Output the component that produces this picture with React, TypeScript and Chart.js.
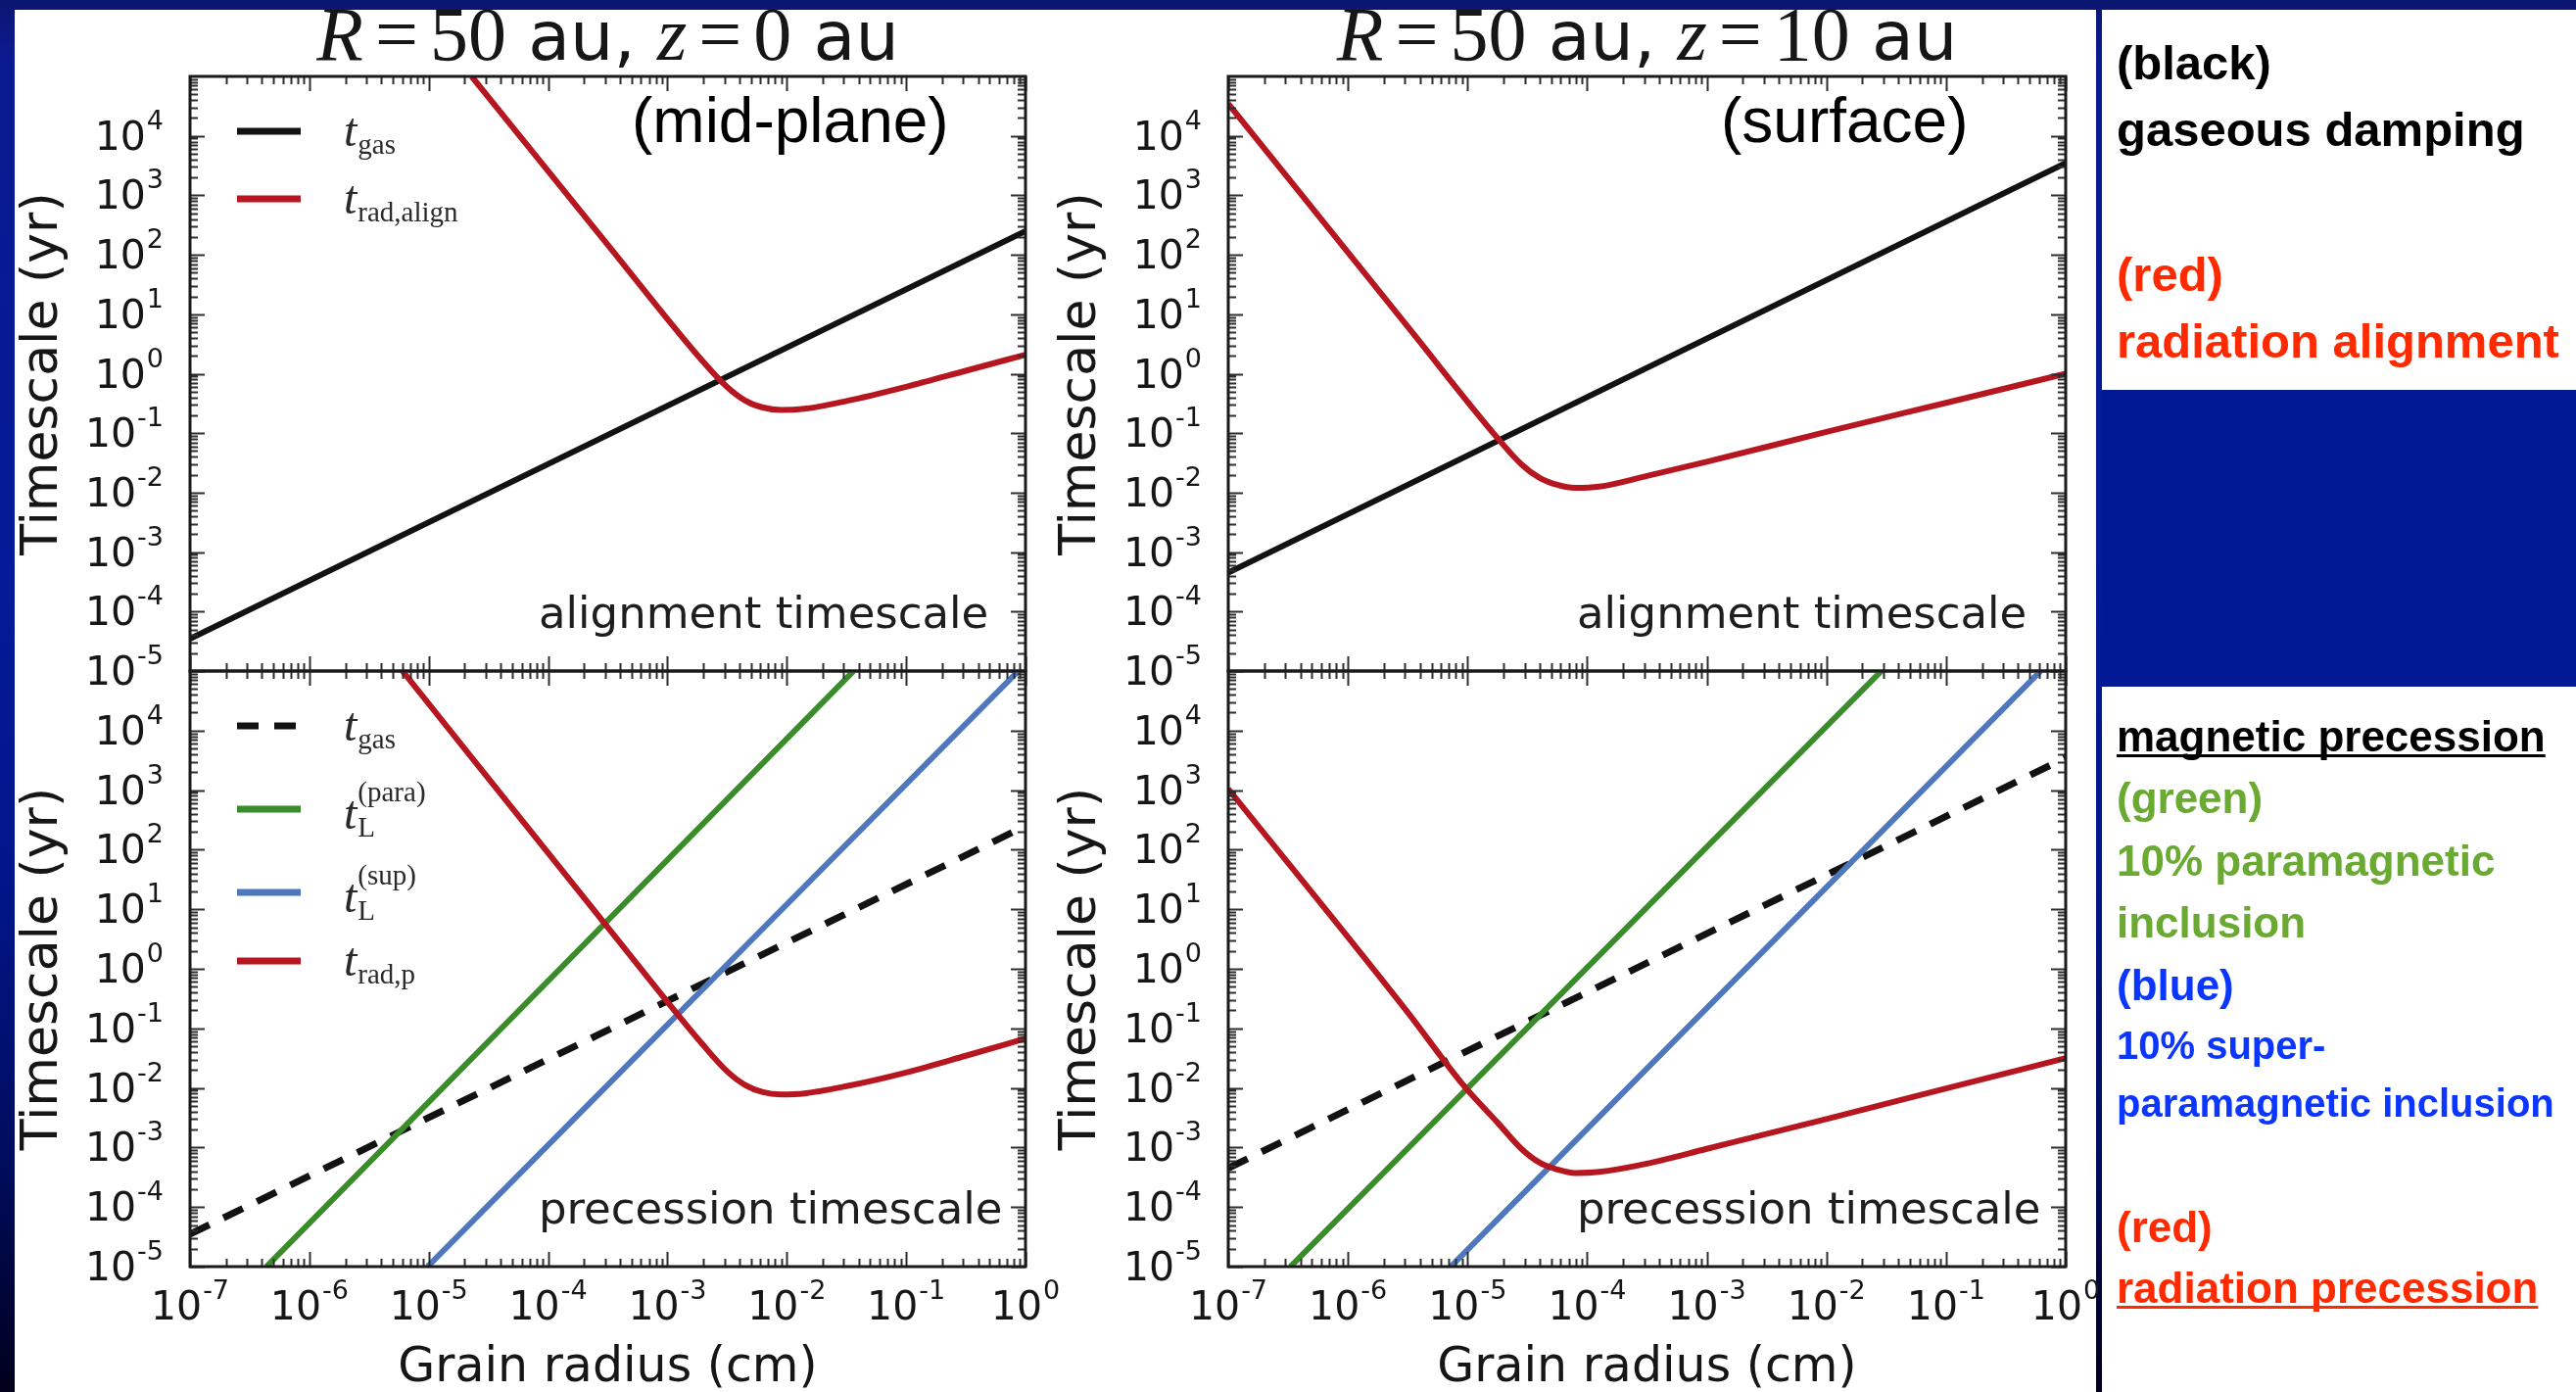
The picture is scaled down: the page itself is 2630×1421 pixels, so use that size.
import { useEffect, useRef } from 'react';
import { Chart, registerables } from 'chart.js';

Chart.register(...registerables);

const PAGE_W = 2630;
const PAGE_H = 1421;

// Decade exponents labelled on the axes
const radiusTickExponents = [-7, -6, -5, -4, -3, -2, -1, 0];
const timeTickExponents = [-5, -4, -3, -2, -1, 0, 1, 2, 3, 4];

// Gaseous damping timescale (yr) against grain radius (cm)
const gasRadius = [1e-7, 1];
const gasTimeMidplane = [3.5e-5, 250];
const gasTimeSurface = [4.5e-4, 3.5e3];

// Radiative alignment timescale, mid-plane (z = 0 au)
const radAlignMidRadius = [2.29e-5, 3.16e-4, 2.0e-3, 3.16e-3, 4.47e-3, 6.31e-3, 8.91e-3, 1.41e-2, 3.16e-2, 0.1, 0.316, 1];
const radAlignMidTime = [1e5, 148, 1.58, 0.6, 0.355, 0.27, 0.245, 0.257, 0.347, 0.603, 1.12, 2.09];

// Radiative alignment timescale, surface (z = 10 au)
const radAlignSurfRadius = [1e-7, 3.16e-6, 1.78e-5, 2.82e-5, 3.98e-5, 5.62e-5, 7.94e-5, 1.26e-4, 3.16e-4, 1e-3, 1e-2, 0.1, 1];
const radAlignSurfTime = [3.47e4, 6.2, 0.083, 0.03, 0.0178, 0.0135, 0.012, 0.0126, 0.0191, 0.0331, 0.105, 0.324, 1.0];

// Radiative precession timescale, mid-plane
const radPrecMidRadius = [6.03e-6, 3.16e-4, 2.0e-3, 3.16e-3, 4.47e-3, 6.31e-3, 8.91e-3, 1.41e-2, 3.16e-2, 0.1, 0.316, 1];
const radPrecMidTime = [1e5, 5.0, 0.052, 0.019, 0.0112, 0.0085, 0.0078, 0.0081, 0.0107, 0.0182, 0.0347, 0.0676];

// Radiative precession timescale, surface
const radPrecSurfRadius = [1e-7, 3.16e-6, 9.1e-6, 1.78e-5, 2.82e-5, 3.98e-5, 5.62e-5, 7.94e-5, 1.26e-4, 3.16e-4, 1e-3, 1e-2, 0.1, 1];
const radPrecSurfTime = [1.05e3, 0.186, 0.0115, 2.63e-3, 9.5e-4, 5.6e-4, 4.27e-4, 3.72e-4, 3.89e-4, 5.37e-4, 9.5e-4, 3.0e-3, 9.8e-3, 3.16e-2];

// Larmor precession: paramagnetic (para) and superparamagnetic (sup) inclusions
const paraMidRadius = [4.37e-7, 3.63e-2];
const supMidRadius = [9.77e-6, 0.871];
const paraSurfRadius = [3.31e-7, 2.88e-2];
const supSurfRadius = [7.24e-6, 0.617];
const larmorTime = [1e-5, 1e5];

const COLOR = {
  gas: '#121212',
  rad: '#b5161f',
  para: '#3a8b2a',
  sup: '#4f77bb',
};
const GAS_DASH = [22, 16];
const LINE_W = 6;
const DASH_W = 7;

type Curve = { radius: number[]; time: number[]; color: string; dash?: number[] };
type Key = { color: string; dash?: number[]; sub: string; sup?: string; y: number };
type Panel = {
  area: [number, number, number, number];
  curves: Curve[];
  keys: Key[];
  note: string;
  place?: string;
  placeX?: number;
  zValue?: string;
  xLabels: boolean;
};

const LEFT_COL: [number, number] = [194, 1047];
const RIGHT_COL: [number, number] = [1254, 2109];
const TOP_ROW: [number, number] = [78, 685];
const BOTTOM_ROW: [number, number] = [685, 1293];

const panels: Panel[] = [
  {
    area: [LEFT_COL[0], TOP_ROW[0], LEFT_COL[1], TOP_ROW[1]],
    curves: [
      { radius: radAlignMidRadius, time: radAlignMidTime, color: COLOR.rad },
      { radius: gasRadius, time: gasTimeMidplane, color: COLOR.gas },
    ],
    keys: [
      { color: COLOR.gas, sub: 'gas', y: 134 },
      { color: COLOR.rad, sub: 'rad,align', y: 203 },
    ],
    note: 'alignment timescale',
    place: '(mid-plane)',
    placeX: 645,
    zValue: '0',
    xLabels: false,
  },
  {
    area: [RIGHT_COL[0], TOP_ROW[0], RIGHT_COL[1], TOP_ROW[1]],
    curves: [
      { radius: radAlignSurfRadius, time: radAlignSurfTime, color: COLOR.rad },
      { radius: gasRadius, time: gasTimeSurface, color: COLOR.gas },
    ],
    keys: [],
    note: 'alignment timescale',
    place: '(surface)',
    placeX: 1757,
    zValue: '10',
    xLabels: false,
  },
  {
    area: [LEFT_COL[0], BOTTOM_ROW[0], LEFT_COL[1], BOTTOM_ROW[1]],
    curves: [
      { radius: radPrecMidRadius, time: radPrecMidTime, color: COLOR.rad },
      { radius: supMidRadius, time: larmorTime, color: COLOR.sup },
      { radius: paraMidRadius, time: larmorTime, color: COLOR.para },
      { radius: gasRadius, time: gasTimeMidplane, color: COLOR.gas, dash: GAS_DASH },
    ],
    keys: [
      { color: COLOR.gas, dash: GAS_DASH, sub: 'gas', y: 741 },
      { color: COLOR.para, sub: 'L', sup: '(para)', y: 826 },
      { color: COLOR.sup, sub: 'L', sup: '(sup)', y: 911 },
      { color: COLOR.rad, sub: 'rad,p', y: 981 },
    ],
    note: 'precession timescale',
    xLabels: true,
  },
  {
    area: [RIGHT_COL[0], BOTTOM_ROW[0], RIGHT_COL[1], BOTTOM_ROW[1]],
    curves: [
      { radius: radPrecSurfRadius, time: radPrecSurfTime, color: COLOR.rad },
      { radius: supSurfRadius, time: larmorTime, color: COLOR.sup },
      { radius: paraSurfRadius, time: larmorTime, color: COLOR.para },
      { radius: gasRadius, time: gasTimeSurface, color: COLOR.gas, dash: GAS_DASH },
    ],
    keys: [],
    note: 'precession timescale',
    xLabels: true,
  },
];

const SANS = '"DejaVu Sans", "Bitstream Vera Sans", sans-serif';
const SERIF = '"Liberation Serif", "Times New Roman", serif';
const TEXT = '#161616';

function drawPower(ctx: CanvasRenderingContext2D, exp: number, x: number, baseY: number, align: 'right' | 'center') {
  const base = '10';
  const sup = String(exp);
  ctx.font = `41px ${SANS}`;
  const wb = ctx.measureText(base).width;
  ctx.font = `27px ${SANS}`;
  const ws = ctx.measureText(sup).width;
  const total = wb + ws + 1;
  const x0 = align === 'right' ? x - total : x - total / 2;
  ctx.textAlign = 'left';
  ctx.textBaseline = 'alphabetic';
  ctx.font = `41px ${SANS}`;
  ctx.fillText(base, x0, baseY);
  ctx.font = `27px ${SANS}`;
  ctx.fillText(sup, x0 + wb + 1, baseY - 21);
}

function drawTitle(ctx: CanvasRenderingContext2D, cx: number, baseline: number, z: string) {
  const serifPx = 78;
  const sansPx = 70;
  const gap = 12;
  const parts: [string, string, number][] = [
    ['R', `italic ${serifPx}px ${SERIF}`, gap],
    ['=', `${serifPx}px ${SERIF}`, gap],
    ['50', `${serifPx}px ${SERIF}`, 0],
    [' au, ', `${sansPx}px ${SANS}`, 0],
    ['z', `italic ${serifPx}px ${SERIF}`, gap],
    ['=', `${serifPx}px ${SERIF}`, gap],
    [z, `${serifPx}px ${SERIF}`, 0],
    [' au', `${sansPx}px ${SANS}`, 0],
  ];
  let total = 0;
  const widths = parts.map(([t, f, g]) => {
    ctx.font = f;
    const w = ctx.measureText(t).width;
    total += w + g;
    return w;
  });
  let x = cx - total / 2;
  ctx.textAlign = 'left';
  ctx.textBaseline = 'alphabetic';
  ctx.fillStyle = TEXT;
  parts.forEach(([t, f, g], i) => {
    ctx.font = f;
    ctx.fillText(t, x, baseline);
    x += widths[i] + g;
  });
}

function drawKey(ctx: CanvasRenderingContext2D, left: number, key: Key) {
  ctx.save();
  ctx.strokeStyle = key.color;
  ctx.lineWidth = key.dash ? 7 : 7;
  ctx.lineCap = 'butt';
  ctx.setLineDash(key.dash ?? []);
  ctx.beginPath();
  ctx.moveTo(left + 48, key.y);
  ctx.lineTo(left + 113, key.y);
  ctx.stroke();
  ctx.restore();

  const x = left + 157;
  const baseY = key.y + (key.sup ? 20 : 15);
  ctx.fillStyle = '#2a2a2a';
  ctx.textAlign = 'left';
  ctx.textBaseline = 'alphabetic';
  ctx.font = `italic 48px ${SERIF}`;
  ctx.fillText('t', x, baseY);
  const tw = ctx.measureText('t').width;
  ctx.font = `29px ${SERIF}`;
  ctx.fillText(key.sub, x + tw + 1, baseY + 8);
  if (key.sup) ctx.fillText(key.sup, x + tw + 1, key.y - 8);
}

function drawPanel(chart: Chart, p: Panel) {
  const ctx = chart.ctx;
  const { left, right, top, bottom } = chart.chartArea;
  const xs = chart.scales.x;
  const ys = chart.scales.y;
  ctx.save();

  // inward ticks on all four sides
  ctx.strokeStyle = '#2e2e2e';
  ctx.lineWidth = 2;
  ctx.beginPath();
  for (const e of radiusTickExponents) {
    for (let m = 1; m <= 9; m++) {
      const v = m * Math.pow(10, e);
      if (v > 1.0000001) break;
      const px = Math.round(xs.getPixelForValue(v)) + 0.5;
      const len = m === 1 ? 15 : 8;
      ctx.moveTo(px, bottom);
      ctx.lineTo(px, bottom - len);
      ctx.moveTo(px, top);
      ctx.lineTo(px, top + len);
    }
  }
  for (const e of timeTickExponents) {
    for (let m = 1; m <= 9; m++) {
      const v = m * Math.pow(10, e);
      const py = Math.round(ys.getPixelForValue(v)) + 0.5;
      const len = m === 1 ? 15 : 8;
      ctx.moveTo(left, py);
      ctx.lineTo(left + len, py);
      ctx.moveTo(right, py);
      ctx.lineTo(right - len, py);
    }
  }
  ctx.stroke();

  // frame
  ctx.strokeStyle = '#1a1a1a';
  ctx.lineWidth = 3;
  ctx.strokeRect(left, top, right - left, bottom - top);

  // tick labels
  ctx.fillStyle = TEXT;
  for (const e of timeTickExponents) {
    const py = ys.getPixelForValue(Math.pow(10, e));
    drawPower(ctx, e, left - 27, py + 14, 'right');
  }
  if (p.xLabels) {
    for (const e of radiusTickExponents) {
      const px = xs.getPixelForValue(Math.pow(10, e));
      drawPower(ctx, e, px, bottom + 54, 'center');
    }
    ctx.font = `49px ${SANS}`;
    ctx.textAlign = 'center';
    ctx.fillText('Grain radius (cm)', (left + right) / 2, 1410);
  }

  // y axis title
  ctx.save();
  ctx.translate(left - 136, (top + bottom) / 2);
  ctx.rotate(-Math.PI / 2);
  ctx.font = `52px ${SANS}`;
  ctx.textAlign = 'center';
  ctx.textBaseline = 'alphabetic';
  ctx.fillText('Timescale (yr)', 0, 0);
  ctx.restore();

  // in-panel annotations
  ctx.textAlign = 'left';
  ctx.textBaseline = 'alphabetic';
  ctx.fillStyle = '#1e1e1e';
  ctx.font = `45px ${SANS}`;
  ctx.fillText(p.note, left + 356, bottom - 44);
  if (p.place && p.placeX !== undefined) {
    ctx.fillStyle = '#000';
    ctx.font = `64px "Liberation Sans", Arial, sans-serif`;
    ctx.fillText(p.place, p.placeX, top + 67);
  }

  // legend
  p.keys.forEach((k) => drawKey(ctx, left, k));

  // title
  if (p.zValue) drawTitle(ctx, (left + right) / 2, 61, p.zValue);

  ctx.restore();
}

function PanelChart({ panel }: { panel: Panel }) {
  const ref = useRef<HTMLCanvasElement>(null);
  useEffect(() => {
    const canvas = ref.current;
    if (!canvas) return;
    const [l, t, r, b] = panel.area;
    const chart = new Chart(canvas, {
      type: 'line',
      data: {
        datasets: panel.curves.map((c) => ({
          data: c.radius.map((x, i) => ({ x, y: c.time[i] })),
          borderColor: c.color,
          backgroundColor: c.color,
          borderWidth: c.dash ? DASH_W : LINE_W,
          borderDash: c.dash ?? [],
          borderCapStyle: 'butt' as const,
          pointRadius: 0,
          fill: false,
          tension: 0,
          cubicInterpolationMode: (c.radius.length > 2 ? 'monotone' : 'default') as 'monotone' | 'default',
          clip: 0,
        })),
      },
      options: {
        responsive: false,
        animation: false,
        devicePixelRatio: 1,
        events: [],
        layout: { padding: { left: l, top: t, right: PAGE_W - r, bottom: PAGE_H - b } },
        plugins: { legend: { display: false }, tooltip: { enabled: false }, title: { display: false } },
        scales: {
          x: { type: 'logarithmic', min: 1e-7, max: 1, display: false },
          y: { type: 'logarithmic', min: 1e-5, max: 1e5, display: false },
        },
      },
      plugins: [{ id: 'panelDecor', afterDatasetsDraw: (ch: Chart) => drawPanel(ch, panel) }],
    });
    return () => chart.destroy();
  }, [panel]);
  return (
    <canvas
      ref={ref}
      width={PAGE_W}
      height={PAGE_H}
      style={{ position: 'absolute', left: 0, top: 0, width: PAGE_W, height: PAGE_H }}
    />
  );
}

type SideLine = { text: string; color: string; size: number; baseline: number; underline?: boolean };

const SIDE_RED = '#ff2a00';
const SIDE_GREEN = '#6aaa32';
const SIDE_BLUE = '#0a36ff';

const sideLines: SideLine[] = [
  { text: '(black)', color: '#000', size: 49, baseline: 81 },
  { text: 'gaseous damping', color: '#000', size: 49, baseline: 149 },
  { text: '(red)', color: SIDE_RED, size: 49, baseline: 297 },
  { text: 'radiation alignment', color: SIDE_RED, size: 49, baseline: 365 },
  { text: 'magnetic precession', color: '#000', size: 44, baseline: 767, underline: true },
  { text: '(green)', color: SIDE_GREEN, size: 44, baseline: 830 },
  { text: '10% paramagnetic', color: SIDE_GREEN, size: 44, baseline: 894 },
  { text: 'inclusion', color: SIDE_GREEN, size: 44, baseline: 957 },
  { text: '(blue)', color: SIDE_BLUE, size: 44, baseline: 1021 },
  { text: '10% super-', color: SIDE_BLUE, size: 40, baseline: 1081 },
  { text: 'paramagnetic inclusion', color: SIDE_BLUE, size: 40, baseline: 1140 },
  { text: '(red)', color: SIDE_RED, size: 44, baseline: 1268 },
  { text: 'radiation precession', color: SIDE_RED, size: 44, baseline: 1330, underline: true },
];

export default function App() {
  useEffect(() => {
    document.body.style.margin = '0';
    document.body.style.overflow = 'hidden';
  }, []);

  return (
    <div
      style={{
        position: 'absolute',
        left: 0,
        top: 0,
        width: PAGE_W,
        height: PAGE_H,
        overflow: 'hidden',
        background:
          'linear-gradient(180deg, #0b1670 0%, #0b1a90 4%, #041a98 40%, #02168c 62%, #000c5c 84%, #00001c 100%)',
      }}
    >
      <div style={{ position: 'absolute', left: 15, top: 10, width: 2125, height: PAGE_H - 10, background: '#fff' }} />
      <div style={{ position: 'absolute', left: 2146, top: 10, width: PAGE_W - 2146, height: 388, background: '#fff' }} />
      <div style={{ position: 'absolute', left: 2146, top: 398, width: PAGE_W - 2146, height: 303, background: '#021996' }} />
      <div style={{ position: 'absolute', left: 2146, top: 701, width: PAGE_W - 2146, height: PAGE_H - 701, background: '#fff' }} />

      {panels.map((p, i) => (
        <PanelChart key={i} panel={p} />
      ))}

      {sideLines.map((s, i) => (
        <div
          key={i}
          style={{
            position: 'absolute',
            left: 2161,
            top: s.baseline - 0.8465 * s.size,
            fontFamily: '"Liberation Sans", Arial, Helvetica, sans-serif',
            fontWeight: 700,
            fontSize: s.size,
            lineHeight: `${s.size}px`,
            color: s.color,
            whiteSpace: 'nowrap',
            textDecoration: s.underline ? 'underline' : 'none',
            textDecorationThickness: s.underline ? '3px' : undefined,
            textUnderlineOffset: s.underline ? '3px' : undefined,
            textDecorationSkipInk: 'none',
          }}
        >
          {s.text}
        </div>
      ))}
    </div>
  );
}
